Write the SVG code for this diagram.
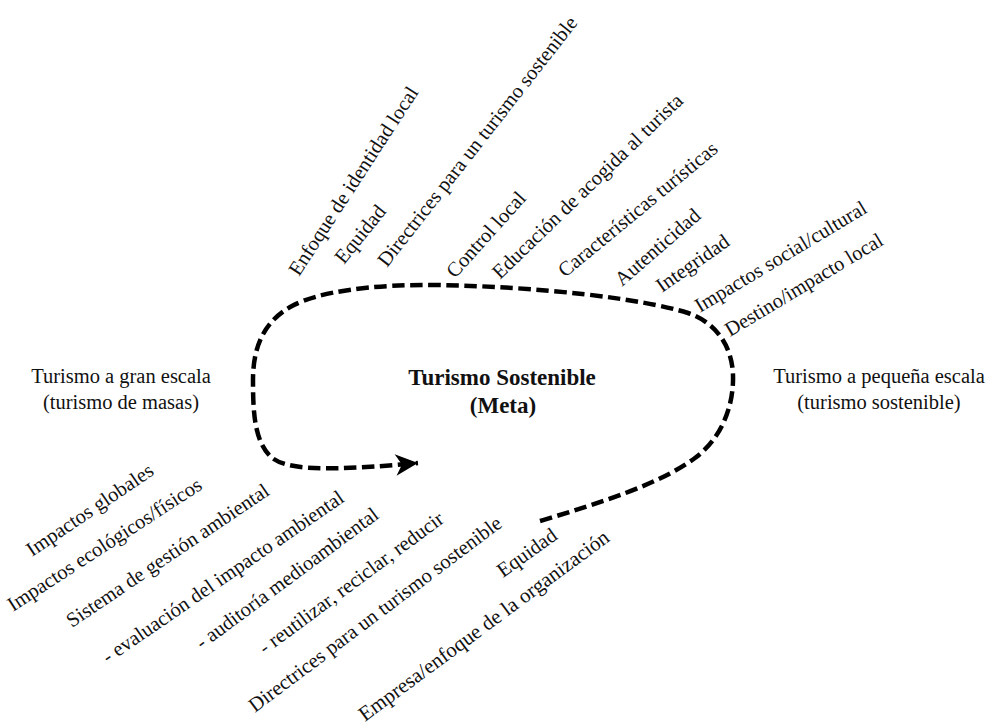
<svg xmlns="http://www.w3.org/2000/svg" width="992" height="727" viewBox="0 0 992 727">
  <style>
    .lbl { font-family: "Liberation Serif", "DejaVu Serif", serif; font-size: 20.5px; fill: #111; }
    .mid { text-anchor: middle; }
    .goal { font-family: "Liberation Serif", "DejaVu Serif", serif; font-size: 23px; font-weight: bold; fill: #111; text-anchor: middle; }
    .loop { fill: none; stroke: #000; stroke-width: 4.5; stroke-dasharray: 12.5 5.5; }
  </style>
  <defs>
    <marker id="head" markerUnits="userSpaceOnUse" markerWidth="30" markerHeight="30" viewBox="-24 -12 28 24" refX="0" refY="0" orient="auto">
      <path d="M 0 0 L -21 -10 L -15 0 L -21 10 Z" fill="#000"/>
    </marker>
  </defs>
  <rect width="992" height="727" fill="#fff"/>

  <!-- dashed loop from the open end at lower right round to the arrow -->
  <g id="connectors">
    <path class="loop" marker-end="url(#head)"
      d="M 540 521 C 600 503, 660 484, 695 458 C 722 438, 734 405, 733 375 C 732 345, 715 322, 688 313 C 640 298, 540 287, 440 285 C 370 284, 318 292, 292 306 C 262 322, 253 350, 253 380 C 253 410, 254 440, 270 456 C 285 471, 330 471, 418 463"/>
  </g>

  <g id="goal">
    <text class="goal" x="502" y="385">Turismo Sostenible</text>
    <text class="goal" x="503" y="413">(Meta)</text>
  </g>

  <g id="large-scale">
    <text class="lbl mid" x="121" y="383">Turismo a gran escala</text>
    <text class="lbl mid" x="121" y="409">(turismo de masas)</text>
  </g>

  <g id="small-scale">
    <text class="lbl mid" x="879" y="383">Turismo a pequeña escala</text>
    <text class="lbl mid" x="879" y="409">(turismo sostenible)</text>
  </g>

  <!-- destination-side factors, fanned above the loop -->
  <g id="top-enfoque"><text class="lbl" transform="translate(299,277) rotate(-57)">Enfoque de identidad local</text></g>
  <g id="top-equidad"><text class="lbl" transform="translate(344,265) rotate(-51)">Equidad</text></g>
  <g id="top-directrices"><text class="lbl" transform="translate(387,268) rotate(-52)">Directrices para un turismo sostenible</text></g>
  <g id="top-control"><text class="lbl" transform="translate(455,279) rotate(-48)">Control local</text></g>
  <g id="top-educacion"><text class="lbl" transform="translate(500,280) rotate(-44)">Educación de acogida al turista</text></g>
  <g id="top-caracteristicas"><text class="lbl" transform="translate(565,278) rotate(-39.5)">Características turísticas</text></g>
  <g id="top-autenticidad"><text class="lbl" transform="translate(622,287) rotate(-41)">Autenticidad</text></g>
  <g id="top-integridad"><text class="lbl" transform="translate(662,293) rotate(-35)">Integridad</text></g>
  <g id="top-impactos"><text class="lbl" transform="translate(700,313) rotate(-31)">Impactos social/cultural</text></g>
  <g id="top-destino"><text class="lbl" transform="translate(730,337) rotate(-31)">Destino/impacto local</text></g>

  <!-- organisation-side factors, below the loop -->
  <g id="bot-globales"><text class="lbl" transform="translate(32,557) rotate(-34)">Impactos globales</text></g>
  <g id="bot-ecologicos"><text class="lbl" transform="translate(13,612) rotate(-33)">Impactos ecológicos/físicos</text></g>
  <g id="bot-sistema"><text class="lbl" transform="translate(72,628) rotate(-34)">Sistema de gestión ambiental</text></g>
  <g id="bot-evaluacion"><text class="lbl" transform="translate(108,664) rotate(-34.5)">- evaluación del impacto ambiental</text></g>
  <g id="bot-auditoria"><text class="lbl" transform="translate(202,650) rotate(-36.7)">- auditoría medioambiental</text></g>
  <g id="bot-reutilizar"><text class="lbl" transform="translate(265,655) rotate(-36.5)">- reutilizar, reciclar, reducir</text></g>
  <g id="bot-directrices"><text class="lbl" transform="translate(255,713) rotate(-37)">Directrices para un turismo sostenible</text></g>
  <g id="bot-equidad"><text class="lbl" transform="translate(503,578) rotate(-35.5)">Equidad</text></g>
  <g id="bot-empresa"><text class="lbl" style="font-size:21px" transform="translate(365,722) rotate(-36.5)">Empresa/enfoque de la organización</text></g>
</svg>
